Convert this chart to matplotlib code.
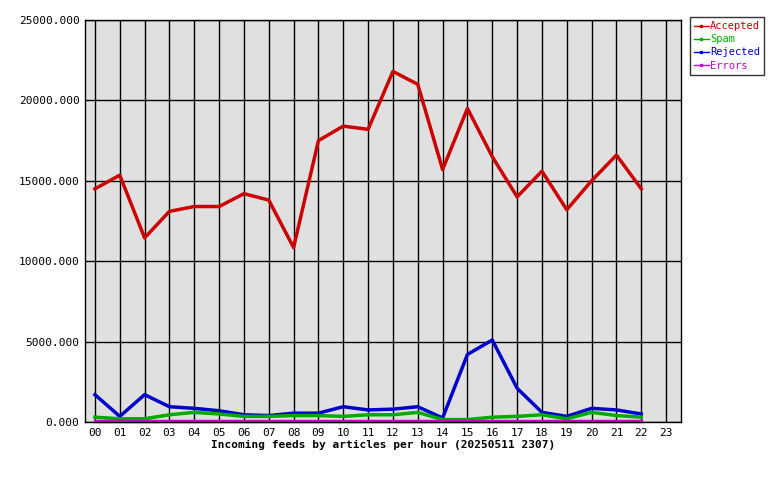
import matplotlib
matplotlib.use('Agg')
import matplotlib.pyplot as plt
from matplotlib.lines import Line2D

hours = list(range(23))
hour_labels = ['%02d' % h for h in range(24)]
accepted = [14500, 15350, 11450, 13100, 13400, 13400, 14200, 13800, 10850, 17500, 18400, 18200,
            21800, 21000, 15700, 19500, 16500, 14000, 15600, 13200, 15000, 16600, 14500]
spam = [300, 200, 200, 450, 600, 500, 350, 350, 400, 400, 350, 450,
        450, 600, 150, 150, 300, 350, 450, 200, 600, 400, 300]
rejected = [1700, 350, 1700, 950, 850, 700, 450, 400, 550, 550, 950, 750,
            800, 950, 250, 4200, 5100, 2100, 600, 350, 850, 750, 500]
errors = [60] * 23

series = [('Accepted', accepted, '#cc0000'), ('Spam', spam, '#00aa00'),
          ('Rejected', rejected, '#0000cc'), ('Errors', errors, '#cc00cc')]

plt.rcParams['font.family'] = 'DejaVu Sans Mono'
fig = plt.figure(figsize=(7.8, 4.8), dpi=100)
ax = fig.add_axes([85 / 780, 58 / 480, 596 / 780, 402 / 480])
ax.set_facecolor('#e0e0e0')

ax.plot(hours, accepted, color='#cc0000', lw=2.5)
ax.plot(hours, rejected, color='#0000cc', lw=2.5)
ax.plot(hours, spam, color='#00aa00', lw=2.5)
ax.plot(hours, errors, color='#cc00cc', lw=2.5, clip_on=False)

ax.set_xlim(-0.4, 23.6)
ax.set_ylim(0, 25000)
ax.set_xticks(range(24))
ax.set_xticklabels(hour_labels, fontsize=8)
ax.set_yticks(range(0, 25001, 5000))
ax.set_yticklabels(['%d.000' % v for v in range(0, 25001, 5000)], fontsize=8)
ax.tick_params(length=0, pad=4)
ax.grid(True, color='black', lw=1)
ax.set_axisbelow(True)
for s in ax.spines.values():
    s.set_linewidth(1)
ax.set_xlabel('Incoming feeds by articles per hour (20250511 2307)', fontsize=8,
              fontweight='bold', labelpad=2)

handles = [Line2D([0], [0], color=c, lw=1, marker='s', ms=2, mfc='none') for _, _, c in series]
leg = fig.legend(handles, [n for n, _, _ in series], loc='upper left',
                 bbox_to_anchor=(690 / 780, 1 - 17 / 480), fontsize=7.5, frameon=True,
                 fancybox=False, edgecolor='black', handlelength=1.4, handletextpad=0.1,
                 borderpad=0.4, labelspacing=0.3, borderaxespad=0)
leg.get_frame().set_linewidth(1)
for t, (_, _, c) in zip(leg.get_texts(), series):
    t.set_color(c)

fig.savefig('out.png')
